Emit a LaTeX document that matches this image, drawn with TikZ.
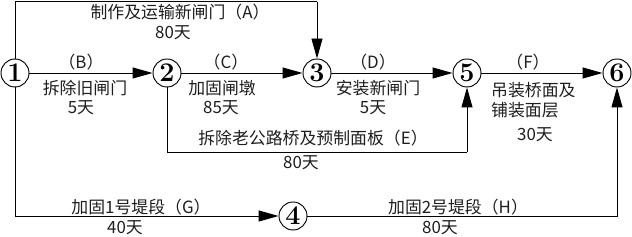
\documentclass[tikz,border=0pt]{standalone}
\usepackage{fontspec}
\newfontfamily\cjk{Noto Sans CJK SC}
\usetikzlibrary{arrows.meta, positioning, calc}
\definecolor{darkgray}{RGB}{30, 30, 30}

\begin{document}
\begin{tikzpicture}[
    event/.style={draw=black, line width=0.8pt, fill=white, circle, minimum size=0.84cm, inner sep=0pt, font=\fontsize{23}{23}\selectfont\bfseries},
    lbl/.style={inner sep=0pt, text=darkgray, font=\cjk\fontsize{14.4pt}{16pt}\selectfont},
    arr/.style={draw=black, line width=0.8pt, -{Triangle[length=0.6cm, width=0.33cm]}},
    seg/.style={draw=black, line width=0.8pt}
]
    \useasboundingbox (0, 0) rectangle (18.96, 7.11);

    % events
    \node [event] (n1) at (0.45, 4.92) {1};
    \node [event] (n2) at (5.01, 4.92) {2};
    \node [event] (n3) at (9.51, 4.92) {3};
    \node [event] (n5) at (14.01, 4.92) {5};
    \node [event] (n6) at (18.51, 4.92) {6};
    \node [event] (n4) at (8.79, 0.63) {4};

    \coordinate (top) at (0, 7.06);
    \coordinate (eline) at (0, 2.55);

    % activities
    \draw [seg] (n1) |- (n3 |- top);
    \draw [arr] (n3 |- top) -- (n3);
    \draw [arr] (n1) -- (n2);
    \draw [arr] (n2) -- (n3);
    \draw [arr] (n3) -- (n5);
    \draw [arr] (n5) -- (n6);
    \draw [seg] (n2) |- (n5 |- eline);
    \draw [arr] (n5 |- eline) -- (n5);
    \draw [arr] (n1) |- (n4);
    \draw [arr] (n4) -| (n6);

    % labels
    \node [lbl] (la) at (5.40, 6.75) {制作及运输新闸门（A）};
    \node [lbl] (la_t) at (5.19, 6.12) {80天};
    \node [lbl] (lb) at (2.43, 5.25) {（B）};
    \node [lbl] (lb_n) at (2.55, 4.47) {拆除旧闸门};
    \node [lbl] (lb_t) at (2.43, 3.87) {5天};
    \node [lbl] (lc) at (6.78, 5.25) {（C）};
    \node [lbl] (lc_n) at (6.66, 4.47) {加固闸墩};
    \node [lbl] (lc_t) at (6.63, 3.87) {85天};
    \node [lbl] (ld) at (11.19, 5.25) {（D）};
    \node [lbl] (ld_n) at (11.34, 4.47) {安装新闸门};
    \node [lbl] (ld_t) at (11.19, 3.87) {5天};
    \node [lbl] (lf) at (15.84, 5.25) {（F）};
    \node [lbl, anchor=west] (lf_n) at (14.73, 4.41) {吊装桥面及};
    \node [lbl, anchor=west] (lf_m) at (14.73, 3.81) {铺装面层};
    \node [lbl, anchor=west] (lf_t) at (15.51, 3.06) {30天};
    \node [lbl] (le) at (9.39, 2.97) {拆除老公路桥及预制面板（E）};
    \node [lbl] (le_t) at (9.03, 2.22) {80天};
    \node [lbl] (lg) at (4.23, 0.90) {加固1号堤段（G）};
    \node [lbl] (lg_t) at (3.75, 0.27) {40天};
    \node [lbl] (lh) at (13.74, 0.90) {加固2号堤段（H）};
    \node [lbl] (lh_t) at (13.20, 0.27) {80天};

\end{tikzpicture}
\end{document}
